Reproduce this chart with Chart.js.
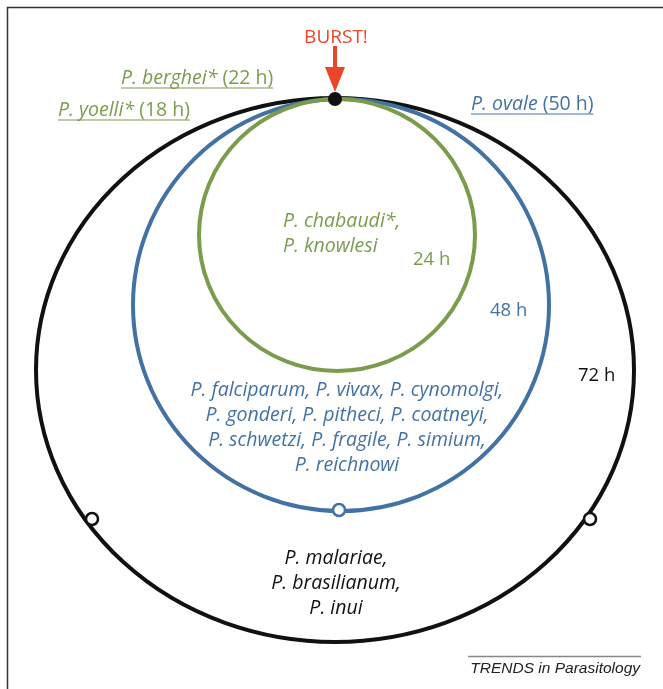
<!DOCTYPE html>
<html>
<head>
<meta charset="utf-8">
<script src="https://cdn.jsdelivr.net/npm/chart.js@4.4.1/dist/chart.umd.min.js"></script>
<style>
  html, body { margin: 0; padding: 0; background: #fff; }
  #wrap { width: 663px; height: 689px; position: relative; }
</style>
</head>
<body>
<div id="wrap"><canvas id="cycles"></canvas></div>
<script>
// Intra-erythrocytic cycle lengths (h) and the species in each ring
var cycleHours = [24, 48, 72];
var cycleLabels = ['24 h', '48 h', '72 h'];
var cycleColors = ['#7b9c4c', '#4272a3', '#111111'];
var cycleSpecies = [
    ['P. chabaudi*,', 'P. knowlesi'],
    ['P. falciparum, P. vivax, P. cynomolgi,', 'P. gonderi, P. pitheci, P. coatneyi,', 'P. schwetzi, P. fragile, P. simium,', 'P. reichnowi'],
    ['P. malariae,', 'P. brasilianum,', 'P. inui']
];
// odd cycle lengths, shown outside the rings
var oddSpecies = ['P. berghei*', 'P. yoelli*', 'P. ovale'];
var oddHours = [22, 18, 50];
var oddColors = ['#7b9c4c', '#7b9c4c', '#4272a3'];

// diagram geometry in canvas units (x right, y down)
var rings = [
    {cx: 337, cy: 235, rx: 138, ry: 136},
    {cx: 341, cy: 305, rx: 208, ry: 206},
    {cx: 335, cy: 370, rx: 299, ry: 272}
];
var burstPoint = [{x: 335, y: 99}];
var openPointsBlack = [{x: 92, y: 519}, {x: 590, y: 519}];
var openPointsBlue = [{x: 339, y: 510}];

var sans = '"Open Sans", Lato, sans-serif';

function drawParts(ctx, x, y, parts, color, size, underline) {
    var cx = x;
    ctx.fillStyle = color;
    ctx.textBaseline = 'alphabetic';
    ctx.textAlign = 'left';
    parts.forEach(function(p) {
        ctx.font = (p.italic ? 'italic ' : '') + size + 'px ' + sans;
        ctx.fillText(p.text, cx, y);
        cx += ctx.measureText(p.text).width;
    });
    if (underline) {
        ctx.strokeStyle = color;
        ctx.lineWidth = 1.2;
        ctx.beginPath();
        ctx.moveTo(x, y + 4);
        ctx.lineTo(cx, y + 4);
        ctx.stroke();
    }
}

var diagramPlugin = {
    id: 'diagram',
    beforeDatasetsDraw: function(chart) {
        var ctx = chart.ctx,
            sx = chart.scales.x,
            sy = chart.scales.y;
        function X(v) { return sx.getPixelForValue(v); }
        function Y(v) { return sy.getPixelForValue(v); }
        ctx.save();

        // frame
        ctx.strokeStyle = '#333';
        ctx.lineWidth = 1.5;
        ctx.beginPath();
        ctx.moveTo(X(7.5), Y(689));
        ctx.lineTo(X(7.5), Y(7.5));
        ctx.lineTo(X(663), Y(7.5));
        ctx.stroke();

        // rings, outermost first
        for (var i = rings.length - 1; i >= 0; i--) {
            var r = rings[i];
            ctx.strokeStyle = cycleColors[i];
            ctx.lineWidth = 4;
            ctx.beginPath();
            ctx.ellipse(X(r.cx), Y(r.cy), Math.abs(X(r.cx + r.rx) - X(r.cx)),
                Math.abs(Y(r.cy + r.ry) - Y(r.cy)), 0, 0, Math.PI * 2);
            ctx.stroke();
        }

        // burst arrow
        ctx.strokeStyle = '#e9462b';
        ctx.fillStyle = '#e9462b';
        ctx.lineWidth = 4;
        ctx.beginPath();
        ctx.moveTo(X(335), Y(46));
        ctx.lineTo(X(335), Y(72));
        ctx.stroke();
        ctx.beginPath();
        ctx.moveTo(X(325), Y(67));
        ctx.lineTo(X(345), Y(67));
        ctx.lineTo(X(335), Y(92));
        ctx.closePath();
        ctx.fill();
        ctx.font = '19px ' + sans;
        ctx.textAlign = 'center';
        ctx.fillText('BURST!', X(336), Y(43));

        // species inside each ring
        var speciesPos = [
            {x: 283, y: 227, dy: 25, align: 'left'},
            {x: 347, y: 396, dy: 25, align: 'center'},
            {x: 336, y: 564, dy: 25, align: 'center'}
        ];
        var labelPos = [[413, 265], [490, 316], [578, 381]];
        cycleSpecies.forEach(function(lines, i) {
            var p = speciesPos[i];
            ctx.fillStyle = cycleColors[i];
            ctx.font = 'italic 19.5px ' + sans;
            ctx.textAlign = p.align;
            lines.forEach(function(t, j) {
                ctx.fillText(t, X(p.x), Y(p.y + j * p.dy));
            });
            ctx.textAlign = 'left';
            ctx.font = '18.5px ' + sans;
            ctx.fillText(cycleLabels[i], X(labelPos[i][0]), Y(labelPos[i][1]));
        });

        // odd cycle lengths
        var oddPos = [[121, 84], [58, 116], [471, 110]];
        oddSpecies.forEach(function(s, i) {
            drawParts(ctx, X(oddPos[i][0]), Y(oddPos[i][1]),
                [{text: s, italic: true}, {text: ' (' + oddHours[i] + ' h)', italic: false}],
                oddColors[i], 19.5, true);
        });

        // journal tag
        ctx.strokeStyle = '#888';
        ctx.lineWidth = 1.5;
        ctx.beginPath();
        ctx.moveTo(X(468), Y(656.5));
        ctx.lineTo(X(641), Y(656.5));
        ctx.stroke();
        ctx.fillStyle = '#222';
        ctx.font = 'italic 15.5px "Liberation Sans", Arial, sans-serif';
        ctx.textAlign = 'right';
        ctx.fillText('TRENDS in Parasitology', X(640), Y(673));

        ctx.restore();
    }
};

new Chart(document.getElementById('cycles'), {
    type: 'scatter',
    data: {
        datasets: [{
            data: burstPoint,
            pointRadius: 7,
            backgroundColor: '#111',
            borderColor: '#111',
            borderWidth: 0
        }, {
            data: openPointsBlack,
            pointRadius: 6,
            backgroundColor: '#fff',
            borderColor: '#111',
            borderWidth: 2.5
        }, {
            data: openPointsBlue,
            pointRadius: 6,
            backgroundColor: '#fff',
            borderColor: '#4272a3',
            borderWidth: 2.5
        }]
    },
    options: {
        responsive: true,
        maintainAspectRatio: false,
        animation: false,
        layout: {padding: 0, autoPadding: false},
        plugins: {legend: {display: false}, tooltip: {enabled: false}},
        scales: {
            x: {type: 'linear', min: 0, max: 663, display: false},
            y: {type: 'linear', min: 0, max: 689, reverse: true, display: false}
        }
    },
    plugins: [diagramPlugin]
});
</script>
</body>
</html>
